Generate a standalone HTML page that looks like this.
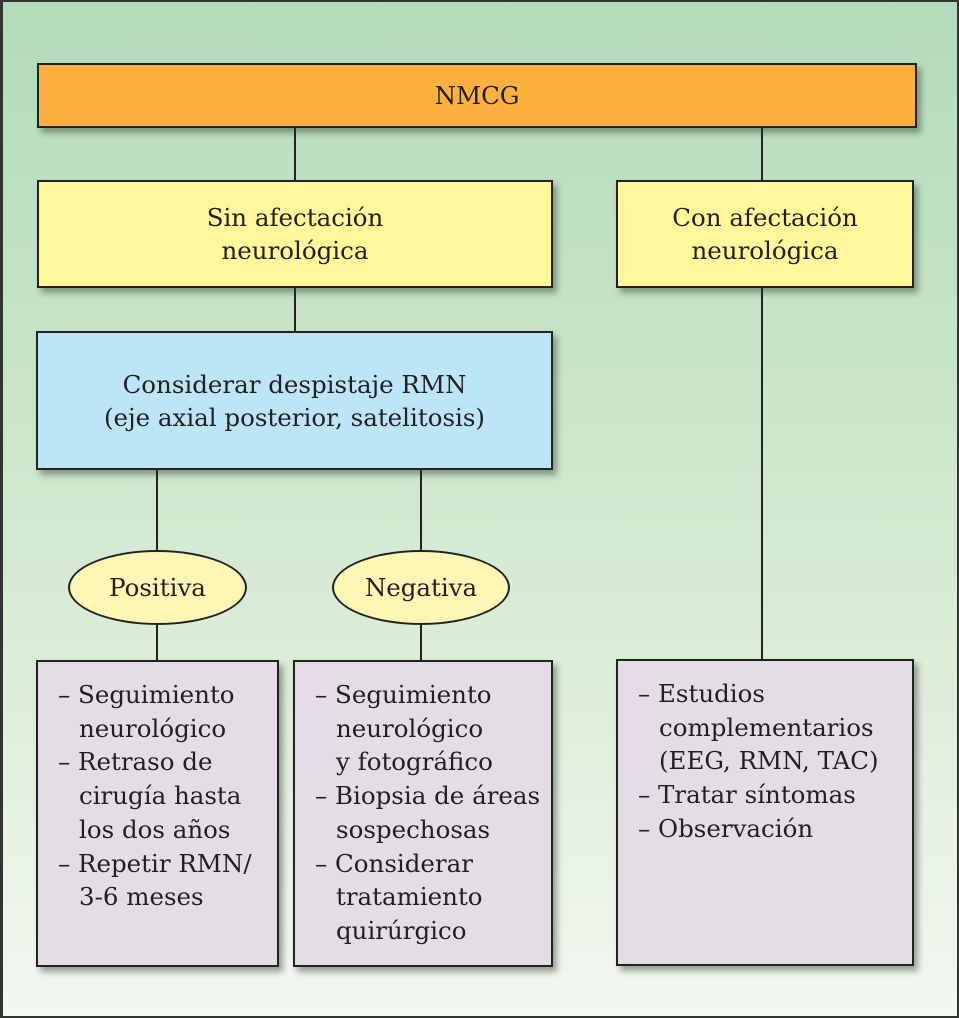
<!DOCTYPE html>
<html><head><meta charset="utf-8"><style>
*{margin:0;padding:0;box-sizing:border-box}
body{width:959px;height:1018px;overflow:hidden;background:#fff;font-family:"DejaVu Serif","Liberation Serif",serif}
#f{position:absolute;left:0;top:0;width:959px;height:1018px;border:2px solid #333;border-left-width:3px;
background:linear-gradient(#b3dbbb 0%,#c8e4c8 35%,#dcedd8 65%,#f3f8f1 100%)}
.b{position:absolute;border:2px solid #222;box-shadow:4px 5px 6px rgba(40,60,40,.45);
font-family:"DejaVu Serif","Liberation Serif",serif;font-size:24.5px;color:#231f20;text-align:center;display:flex;align-items:center;justify-content:center;line-height:33px;white-space:nowrap}
.l{position:absolute;background:#222;width:2px}
.e{position:absolute;border:2px solid #222;border-radius:50%;background:#fdf6b5;font-family:"DejaVu Serif","Liberation Serif",serif;font-size:24.5px;display:flex;align-items:center;justify-content:center;color:#231f20}
.list{position:absolute;border:2px solid #222;box-shadow:4px 5px 6px rgba(40,60,40,.45);background:#e4dde6;
font-family:"DejaVu Serif","Liberation Serif",serif;font-size:24.5px;color:#231f20;line-height:33.7px;padding-top:16px;white-space:nowrap}
.list div{padding-left:41px;text-indent:-21px}
</style></head><body><div id="f"></div>
<div class="l" style="left:294px;top:127px;height:54px"></div>
<div class="l" style="left:761px;top:127px;height:54px"></div>
<div class="l" style="left:294px;top:287px;height:45px"></div>
<div class="l" style="left:761px;top:287px;height:374px"></div>
<div class="l" style="left:156px;top:469px;height:82px"></div>
<div class="l" style="left:420px;top:469px;height:82px"></div>
<div class="l" style="left:156px;top:623px;height:39px"></div>
<div class="l" style="left:420px;top:623px;height:39px"></div>
<div class="b" style="left:37px;top:63px;width:880px;height:65px;background:#fbb040">NMCG</div>
<div class="b" style="left:37px;top:180px;width:516px;height:108px;background:#fff799">Sin afectación<br>neurológica</div>
<div class="b" style="left:616px;top:180px;width:298px;height:108px;background:#fff799">Con afectación<br>neurológica</div>
<div class="b" style="left:36px;top:331px;width:517px;height:139px;background:#bde5f8">Considerar despistaje RMN<br>(eje axial posterior, satelitosis)</div>
<div class="e" style="left:68px;top:550px;width:179px;height:75px">Positiva</div>
<div class="e" style="left:332px;top:550px;width:178px;height:75px">Negativa</div>
<div class="list" style="left:36px;top:660px;width:243px;height:307px"><div>– Seguimiento<br>neurológico</div><div>– Retraso de<br>cirugía hasta<br>los dos años</div><div>– Repetir RMN/<br>3-6 meses</div></div>
<div class="list" style="left:293px;top:660px;width:260px;height:307px"><div>– Seguimiento<br>neurológico<br>y fotográfico</div><div>– Biopsia de áreas<br>sospechosas</div><div>– Considerar<br>tratamiento<br>quirúrgico</div></div>
<div class="list" style="left:616px;top:659px;width:298px;height:307px"><div>– Estudios<br>complementarios<br>(EEG, RMN, TAC)</div><div>– Tratar síntomas</div><div>– Observación</div></div>
</body></html>
